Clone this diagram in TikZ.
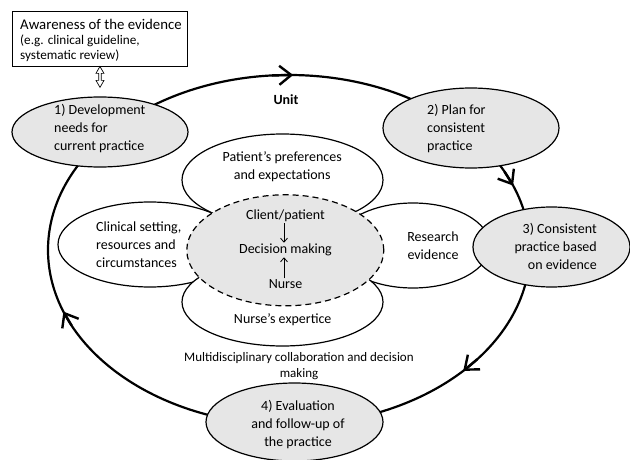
\documentclass[tikz,border=0pt]{standalone}
\usepackage{fontspec}
\setmainfont{Carlito}
\usetikzlibrary{shapes.geometric,arrows.meta,calc}
\definecolor{lightfill}{RGB}{230,230,230}
\begin{document}
\begin{tikzpicture}[x=1pt,y=-1pt,
  every node/.style={font=\fontsize{14}{18}\selectfont},
  stage/.style={draw, ellipse, fill=lightfill, line width=1.2pt, inner sep=0pt},
  factor/.style={draw, ellipse, fill=white, line width=1.2pt, inner sep=0pt},
  core/.style={draw, ellipse, fill=lightfill, line width=1.2pt, dash pattern=on 6pt off 4pt, inner sep=0pt},
  lbl/.style={inner sep=0pt, align=center},
  lbll/.style={inner sep=0pt, align=left},
  cyc/.style={line width=2.2pt},
  cyctip/.style={line width=2.4pt, -{Straight Barb[length=12pt,width=19pt]}},
  smallarrow/.style={-{Straight Barb[length=4pt,width=7pt]}, line width=0.8pt}
]
\useasboundingbox (0,0) rectangle (630,460);

% big cycle
\draw[cyc] (289,250) ellipse [x radius=241, y radius=175];
\foreach \t in {271,338.4,43.7,159.4}{
  \draw[cyctip] ({289+241*cos(\t-5)},{250+175*sin(\t-5)}) -- ({289+241*cos(\t)},{250+175*sin(\t)});
}

% awareness box
\node[draw, line width=0.9pt, minimum width=175pt, minimum height=55pt, anchor=north west, inner sep=0pt] (box) at (12,11) {};
\node[lbll, anchor=west, font=\fontsize{14.8}{18}\selectfont] (boxt1) at (20,24) {Awareness of the evidence};
\node[lbll, anchor=west, font=\fontsize{13.2}{15}\selectfont] (boxt2) at (20,48.5) {(e.g. clinical guideline,\\systematic review)};

% factor ellipses
\node[factor, minimum width=201pt, minimum height=92pt] (pref) at (282.5,180) {};
\node[factor, minimum width=184pt, minimum height=85pt] (clin) at (150,244.5) {};
\node[factor, minimum width=154pt, minimum height=85pt] (res) at (413,245.5) {};
\node[factor, minimum width=201pt, minimum height=88pt] (exp) at (282.5,302) {};

% core
\node[core, minimum width=197pt, minimum height=111pt] (core) at (285.3,250.3) {};

% stages
\node[stage, minimum width=176pt, minimum height=70pt] (e1) at (100,132) {};
\node[stage, minimum width=176pt, minimum height=80pt] (e2) at (471,128) {};
\node[stage, minimum width=157pt, minimum height=80pt] (e3) at (551.5,247) {};
\node[stage, minimum width=177pt, minimum height=78pt] (e4) at (294.5,422) {};

% double arrow between box and stage 1
\coordinate (dtop) at ($(box.south)+(0,-0.5)$);
\coordinate (dbot) at ($(e1.north)+(0,-9)$);
\draw[line width=0.7pt, line join=miter]
  (dtop) -- ($(dtop)+(4,7)$) -- ($(dtop)+(1.3,7)$) -- ($(dbot)+(1.3,-7)$) -- ($(dbot)+(4,-7)$)
  -- (dbot) -- ($(dbot)+(-4,-7)$) -- ($(dbot)+(-1.3,-7)$) -- ($(dtop)+(-1.3,7)$) -- ($(dtop)+(-4,7)$) -- cycle;

% texts
\node[lbll, anchor=west] (e1t) at (54,128.7) {1) Development\\needs for\\current practice};
\node[lbll, anchor=west] (e2t) at (427,128.3) {2) Plan for\\consistent\\practice};
\node[inner sep=0pt, align=right, anchor=east] (e3t) at (597,246.7) {3) Consistent\\practice based\\on evidence};
\node[lbl] (e4t) at (298,425) {4) Evaluation\\and follow-up of\\the practice};
\node[lbl] (rest) at (433,246) {Research\\evidence};
\node[lbl] (preft) at (282.2,166.5) {Patient’s preferences\\and expectations};
\node[lbll, anchor=west] (clint) at (96,245) {Clinical setting,\\resources and\\circumstances};
\node[lbl] (exptt) at (282.7,320) {Nurse’s expertice};
\node[lbl, inner sep=1pt] (client) at (285.5,216) {Client/patient};
\node[lbl, inner sep=1pt] (dec) at (285.5,250) {Decision making};
\node[lbl, inner sep=1pt] (nurse) at (285.5,284) {Nurse};
\draw[smallarrow] (client.south -| 284,0) -- (dec.north -| 284,0);
\draw[smallarrow] (nurse.north -| 284,0) -- (dec.south -| 284,0);
\node[lbl, font=\fontsize{14}{18}\selectfont\bfseries] (unit) at (286,100) {Unit};
\node[lbl, font=\fontsize{13}{16}\selectfont] (multi) at (299,366) {Multidisciplinary collaboration and decision\\making};
\end{tikzpicture}
\end{document}
